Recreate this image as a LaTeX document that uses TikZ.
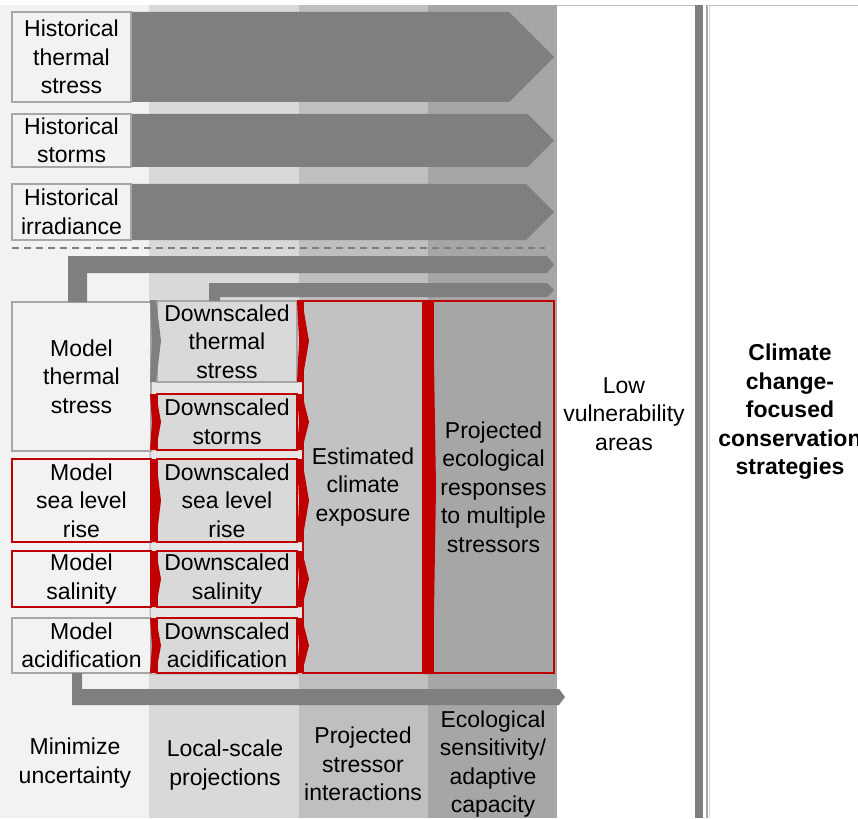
\documentclass[tikz,border=0pt]{standalone}
\usepackage{fontspec}
\setmainfont{Liberation Sans}
\usetikzlibrary{calc}
\definecolor{cA}{HTML}{F2F2F2}
\definecolor{cB}{HTML}{D9D9D9}
\definecolor{cC}{HTML}{BFBFBF}
\definecolor{cD}{HTML}{A6A6A6}
\definecolor{arrg}{HTML}{7F7F7F}
\definecolor{redc}{HTML}{C00000}
\definecolor{gapc}{HTML}{E6E6E6}
\pgfdeclarelayer{bglayer}
\pgfdeclarelayer{midlayer}
\pgfsetlayers{bglayer,midlayer,main}
\newcommand\mychev[7]{\fill[#4] (#1,#2) -- (#1+#5,#2) -- (#1+#5+#6,{(#2+#3)/2}) -- (#1+#5,#3) -- (#1,#3) -- (#1+#7,{(#2+#3)/2}) -- cycle;}
\begin{document}
\begin{tikzpicture}[x=1pt,y=-1pt,
  lbl/.style={font=\fontsize{23}{28.5}\selectfont, align=center, inner sep=0pt, text=black},
  lblb/.style={font=\fontsize{23}{28.5}\selectfont\bfseries, align=center, inner sep=0pt, text=black},
  gbox/.style={lbl, draw=cD, line width=1.5pt, anchor=north west, outer sep=0pt},
  rbox/.style={lbl, draw=redc, line width=1.5pt, anchor=north west, outer sep=0pt},
  arr/.style={fill=arrg},
  thin/.style={draw=cC, line width=1.5pt}]
\clip (0,0) rectangle (858,818);
\begin{pgfonlayer}{bglayer}
% background columns
\fill[cA] (0,5) rectangle (149,818);
\fill[cB] (149,5) rectangle (299,818);
\fill[cC] (299,5) rectangle (428,818);
\fill[cD] (428,5) rectangle (557,818);
% right panels
\draw[thin] (557,5.5) -- (695,5.5);
\fill[arrg] (695,5) rectangle (703,818);
\draw[draw=cD, line width=1.2pt] (707,5) -- (707,818);
\draw[draw=cC!60, line width=1pt] (709.5,5) -- (709.5,818);
\draw[thin] (709,5.5) -- (858,5.5);
\end{pgfonlayer}
% historical boxes
\node[gbox, fill=cA, minimum width=119pt, minimum height=90pt] (h1) at (12,12) {Historical\\thermal\\stress};
\node[gbox, fill=cA, minimum width=119pt, minimum height=53pt] (h2) at (12,114) {Historical\\storms};
\node[gbox, fill=cA, minimum width=119pt, minimum height=56pt] (h3) at (12,184) {Historical\\irradiance};
\coordinate (t1) at (554,57);
\coordinate (t2) at (554,140.5);
\coordinate (t3) at (554,212);
\begin{pgfonlayer}{midlayer}
\fill[arr] (h1.north east) -- ($(t1)+(-45,-45)$) -- (t1) -- ($(t1)+(-45,45)$) -- (h1.south east) -- cycle;
\fill[arr] (h2.north east) -- ($(t2)+(-26.5,-26.5)$) -- (t2) -- ($(t2)+(-26.5,26.5)$) -- (h2.south east) -- cycle;
\fill[arr] (h3.north east) -- ($(t3)+(-28,-28)$) -- (t3) -- ($(t3)+(-28,28)$) -- (h3.south east) -- cycle;
\end{pgfonlayer}
% dashed separator
\coordinate (dl) at (12,248);
\coordinate (dr) at (545,248);
\draw[arrg, line width=2pt, dash pattern=on 7pt off 5pt] (dl) -- (dr);
% model / downscaled backing
\fill[gapc, draw=cC, line width=1pt] (150,300) rectangle (303,674);
% model boxes
\node[gbox, fill=cA, minimum width=139pt, minimum height=149pt] (m1) at (12,302) {Model\\thermal\\stress};
\node[rbox, fill=cA, minimum width=139pt, minimum height=83pt] (m2) at (12,459) {Model\\sea level\\rise};
\node[rbox, fill=cA, minimum width=139pt, minimum height=56pt] (m3) at (12,551) {Model\\salinity};
\node[gbox, fill=cA, minimum width=139pt, minimum height=55pt] (m4) at (12,618) {Model\\acidification};
% downscaled boxes
\node[gbox, fill=cB, minimum width=140pt, minimum height=81pt] (d1) at (157,301) {Downscaled\\thermal\\stress};
\node[rbox, fill=cB, minimum width=140pt, minimum height=56pt] (d2) at (157,394) {Downscaled\\storms};
\node[rbox, fill=cB, minimum width=140pt, minimum height=83pt] (d3) at (157,459) {Downscaled\\sea level\\rise};
\node[rbox, fill=cB, minimum width=140pt, minimum height=56pt] (d4) at (157,551) {Downscaled\\salinity};
\node[rbox, fill=cB, minimum width=140pt, minimum height=55pt] (d5) at (157,618) {Downscaled\\acidification};
% exposure and responses
\node[rbox, fill=cC!95!white, minimum width=120pt, minimum height=372pt] (est) at (303,301) {Estimated\\climate\\exposure};
\node[rbox, fill=cD, minimum width=121pt, minimum height=372pt] (proj) at (433,301) {Projected\\ecological\\responses\\to multiple\\stressors};
% bent arrows
\coordinate (t4) at (554,264.5);
\coordinate (t5) at (554,290);
\coordinate (t6) at (565,697);
\fill[arr] ($(m1.north west)+(56,0)$) -- (68,256) -- ($(t4)+(-7,-8.5)$) -- (t4) -- ($(t4)+(-7,8.5)$) -- (87,273) -- ($(m1.north west)+(75,0)$) -- cycle;
\fill[arr] ($(d1.north west)+(52,0)$) -- (209,283) -- ($(t5)+(-7,-7)$) -- (t5) -- ($(t5)+(-7,7)$) -- (220,297) -- ($(d1.north west)+(63,0)$) -- cycle;
\fill[arr] ($(m4.south west)+(60,0)$) -- ($(m4.south west)+(70,0)$) -- (82,689) -- ($(t6)+(-6,-8)$) -- (t6) -- ($(t6)+(-6,8)$) -- (72,705) -- cycle;
% chevrons
\mychev{150}{300}{382}{arrg}{6}{5}{2}
\mychev{150}{394}{450}{redc}{6}{5}{2}
\mychev{150}{459}{542}{redc}{6}{5}{2}
\mychev{150}{551}{607}{redc}{6}{5}{2}
\mychev{150}{618}{673}{redc}{6}{5}{2}
\mychev{297}{300}{382}{redc}{5}{7}{2}
\mychev{297}{394}{450}{redc}{5}{7}{2}
\mychev{297}{459}{542}{redc}{5}{7}{2}
\mychev{297}{551}{607}{redc}{5}{7}{2}
\mychev{297}{618}{673}{redc}{5}{7}{2}
\mychev{423}{300}{674}{redc}{10}{3}{0}
% bottom labels
\node[lbl] (b1) at (75,763) {Minimize\\uncertainty};
\node[lbl] (b2) at (225,765) {Local-scale\\projections};
\node[lbl] (b3) at (363,764) {Projected\\stressor\\interactions};
\node[lbl] (b4) at (493,764) {Ecological\\sensitivity/\\adaptive\\capacity};
% right labels
\node[lbl] (low) at (624,414) {Low\\vulnerability\\areas};
\node[lblb] (cc) at (790,412) {Climate\\change-\\focused\\conservation\\strategies};
\end{tikzpicture}
\end{document}
